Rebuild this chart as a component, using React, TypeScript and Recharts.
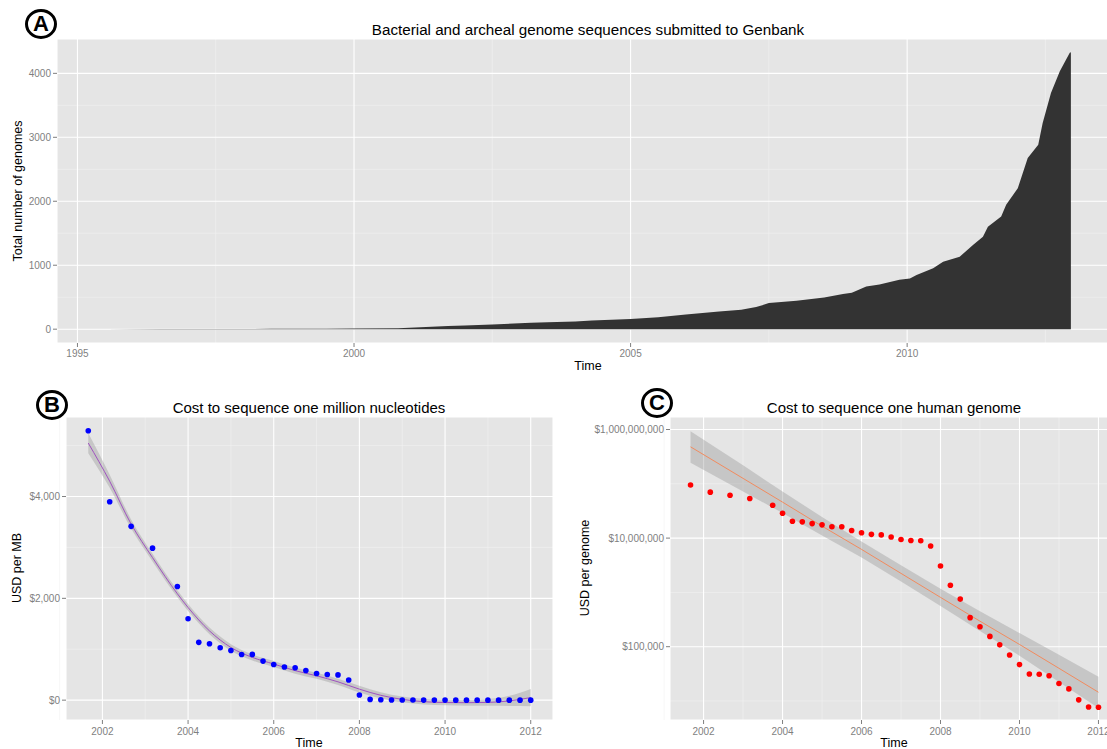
import React from 'react';
import { ComposedChart, Area, Line, Scatter, XAxis, YAxis, CartesianGrid } from 'recharts';

const FONT = '"Liberation Sans", Arial, Helvetica, sans-serif';

// ---------- Panel A: cumulative genomes ----------
const genomeYears = [
  1995.5, 1996.5, 1997.5, 1998.5, 1999.5, 2000.0, 2000.8, 2001.0, 2001.7, 2002.0,
  2002.5, 2003.2, 2003.5, 2004.0, 2004.3, 2005.0, 2005.5, 2006.0, 2006.6, 2007.0,
  2007.27, 2007.5, 2008.0, 2008.5, 2008.84, 2009.0, 2009.26, 2009.5, 2009.86, 2010.05,
  2010.17, 2010.47, 2010.65, 2010.95, 2011.19, 2011.37, 2011.46, 2011.7, 2011.79, 2012.0,
  2012.18, 2012.37, 2012.45, 2012.6, 2012.76, 2012.94, 2012.96,
];
const genomeCounts = [
  0, 1, 3, 5, 8, 10, 15, 22, 48, 58,
  75, 100, 110, 122, 136, 160, 188, 230, 277, 305,
  345, 408, 445, 495, 549, 570, 669, 700, 773, 794,
  846, 951, 1055, 1133, 1317, 1447, 1603, 1760, 1944, 2205,
  2676, 2884, 3224, 3694, 4033, 4321, 4330,
];
const genomeXTicks = [1995, 2000, 2005, 2010];
const genomeXMinor = [1997.5, 2002.5, 2007.5, 2012.5];
const genomeYTicks = [0, 1000, 2000, 3000, 4000];
const genomeYMinor = [500, 1500, 2500, 3500];

// ---------- Panels B & C: sequencing costs ----------
const costDates = [
  2001.67, 2002.17, 2002.67, 2003.17, 2003.75, 2004.0, 2004.25, 2004.5, 2004.75, 2005.0,
  2005.25, 2005.5, 2005.75, 2006.0, 2006.25, 2006.5, 2006.75, 2007.0, 2007.25, 2007.5,
  2007.75, 2008.0, 2008.25, 2008.5, 2008.75, 2009.0, 2009.25, 2009.5, 2009.75, 2010.0,
  2010.25, 2010.5, 2010.75, 2011.0, 2011.25, 2011.5, 2011.75, 2012.0,
];
const costPerMb = [
  5292.39, 3898.64, 3413.8, 2986.2, 2230.98, 1598.91, 1135.7, 1107.46, 1028.85, 974.16,
  897.76, 898.9, 766.73, 699.2, 651.81, 636.41, 581.92, 522.71, 502.61, 495.96,
  397.09, 102.13, 15.03, 8.36, 3.81, 2.59, 1.72, 1.2, 0.78, 0.52,
  0.35, 0.35, 0.32, 0.23, 0.19, 0.12, 0.09, 0.07,
];
const costPerGenome = [
  95263072, 70175437, 61448422, 53751684, 40157554, 28780376, 20442576, 19934346, 18519312, 17534970,
  16159699, 16180224, 13801124, 12585659, 11732535, 11455315, 10474556, 9408739, 9047003, 8927342,
  7147571, 3063820, 1352982, 752080, 342502, 232735, 154714, 108065, 70333, 46774,
  31512, 31125, 29092, 20963, 16712, 10497, 7743, 7666,
];

// loess smooth for panel B
const mbFitYears = [
  2001.67, 2002.17, 2002.67, 2003.17, 2003.75, 2004.0, 2004.5, 2005.0, 2005.5, 2006.0,
  2006.5, 2007.0, 2007.5, 2008.0, 2008.5, 2009.0, 2009.5, 2010.0, 2010.5, 2011.0,
  2011.5, 2012.0,
];
const mbFit = [
  5050, 4300, 3460, 2800, 2090, 1820, 1360, 1035, 840, 710,
  580, 478, 360, 216, 95, 15, -30, -47, -50, -45,
  -15, 51,
];
const mbFitHalfWidth = [
  200, 130, 90, 75, 70, 70, 65, 65, 60, 60,
  60, 60, 62, 68, 62, 58, 55, 55, 58, 65,
  100, 170,
];

// linear fit (log scale) for panel C
const genomeFitYears = [2001.67, 2003, 2004, 2005, 2006, 2007, 2008, 2009, 2010, 2011, 2012];
const genomeFit = [4.8e8, 1.26e8, 4.6e7, 1.66e7, 6.2e6, 2.24e6, 8.1e5, 2.95e5, 1.1e5, 4.0e4, 1.45e4];
const genomeFitLow = [2.45e8, 7.2e7, 2.9e7, 1.12e7, 4.4e6, 1.58e6, 5.6e5, 1.95e5, 6.8e4, 2.24e4, 7.4e3];
const genomeFitHigh = [9.3e8, 2.19e8, 7.2e7, 2.45e7, 8.7e6, 3.16e6, 1.17e6, 4.5e5, 1.78e5, 7.1e4, 2.8e4];

const costXTicks = [2002, 2004, 2006, 2008, 2010, 2012];
const costXMinor = [2001, 2003, 2005, 2007, 2009, 2011];
const mbYTicks = [0, 2000, 4000];
const mbYMinor = [1000, 3000, 5000];
const genomeYTicksC = [1e5, 1e7, 1e9];
const genomeYMinorC = [1e4, 1e6, 1e8];

// ---------- tables ----------
const areaData = genomeYears.map((t, i) => ({ t, v: genomeCounts[i] }));
const mbPoints = costDates.map((t, i) => ({ t, v: costPerMb[i] }));
const mbFitData = mbFitYears.map((t, i) => ({
  t,
  fit: mbFit[i],
  band: [mbFit[i] - mbFitHalfWidth[i], mbFit[i] + mbFitHalfWidth[i]],
}));
const genomePoints = costDates.map((t, i) => ({ t, v: costPerGenome[i] }));
const genomeFitData = genomeFitYears.map((t, i) => ({
  t,
  fit: genomeFit[i],
  band: [genomeFitLow[i], genomeFitHigh[i]],
}));

const tickStyle = { fill: '#7F7F7F', fontSize: 10, fontFamily: FONT };
const tickLine = { stroke: '#7F7F7F' };

const Txt = ({ x, y, size, rotate, children }: any) => (
  <div
    style={{
      position: 'absolute',
      left: x,
      top: y,
      transform: `translate(-50%, -50%)${rotate ? ' rotate(-90deg)' : ''}`,
      fontSize: size,
      fontFamily: FONT,
      color: '#000',
      whiteSpace: 'nowrap',
      lineHeight: 1,
    }}
  >
    {children}
  </div>
);

const Badge = ({ x, y, letter }: any) => (
  <div
    style={{
      position: 'absolute',
      left: x - 16,
      top: y - 15,
      width: 26,
      height: 24,
      border: '3px solid #000',
      borderRadius: '50%',
      display: 'flex',
      alignItems: 'center',
      justifyContent: 'center',
      fontSize: 22,
      fontWeight: 700,
      fontFamily: FONT,
      lineHeight: 1,
    }}
  >
    {letter}
  </div>
);

const dot = (color: string) => (props: any) =>
  <circle cx={props.cx} cy={props.cy} r={2.8} fill={color} />;

const dollars = (v: number) => '$' + Math.round(v).toLocaleString('en-US');

export default function App() {
  return (
    <div
      style={{
        position: 'fixed',
        left: 0,
        top: 0,
        width: 1107,
        height: 749,
        overflow: 'hidden',
        background: '#fff',
        fontFamily: FONT,
      }}
    >
      {/* Panel A */}
      <div style={{ position: 'absolute', left: 0, top: 0 }}>
        <ComposedChart width={1130} height={380} data={areaData} margin={{ top: 39, right: 11, bottom: 0, left: 0 }}>
          <CartesianGrid fill="#E5E5E5" stroke="#F2F2F2" strokeWidth={0.6}
            horizontalValues={genomeYMinor} verticalValues={genomeXMinor} />
          <CartesianGrid stroke="#FFFFFF" strokeWidth={1.1} />
          <XAxis dataKey="t" type="number" domain={[1994.63, 2013.83]} allowDataOverflow
            ticks={genomeXTicks} tick={tickStyle} tickLine={tickLine} tickSize={4} tickMargin={3}
            axisLine={false} height={37} />
          <YAxis type="number" domain={[-216, 4537]} allowDataOverflow ticks={genomeYTicks}
            tick={tickStyle} tickLine={tickLine} tickSize={4} tickMargin={2} axisLine={false} width={57} />
          <Area dataKey="v" type="linear" fill="#333333" fillOpacity={1} stroke="none" isAnimationActive={false} />
        </ComposedChart>
      </div>

      {/* Panel B */}
      <div style={{ position: 'absolute', left: 0, top: 380 }}>
        <ComposedChart width={560} height={369} margin={{ top: 37, right: 7, bottom: 0, left: 0 }}>
          <CartesianGrid fill="#E5E5E5" stroke="#F2F2F2" strokeWidth={0.6}
            horizontalValues={mbYMinor} verticalValues={costXMinor} />
          <CartesianGrid stroke="#FFFFFF" strokeWidth={1.1} />
          <XAxis dataKey="t" type="number" domain={[2001.15, 2012.52]} allowDataOverflow
            ticks={costXTicks} tick={tickStyle} tickLine={tickLine} tickSize={4} tickMargin={4}
            axisLine={false} height={29} />
          <YAxis type="number" domain={[-390, 5562]} allowDataOverflow ticks={mbYTicks}
            tickFormatter={dollars} tick={tickStyle} tickLine={tickLine} tickSize={4} tickMargin={2}
            axisLine={false} width={66} />
          <Scatter data={mbPoints} dataKey="v" shape={dot('#0000FF')} isAnimationActive={false} />
          <Area data={mbFitData} dataKey="band" type="monotone" fill="#999999" fillOpacity={0.4}
            stroke="none" isAnimationActive={false} />
          <Line data={mbFitData} dataKey="fit" type="monotone" stroke="#A052C0" strokeWidth={1}
            dot={false} isAnimationActive={false} />
        </ComposedChart>
      </div>

      {/* Panel C */}
      <div style={{ position: 'absolute', left: 570, top: 380 }}>
        <ComposedChart width={560} height={369} margin={{ top: 37, right: 11, bottom: 0, left: 0 }}>
          <CartesianGrid fill="#E5E5E5" stroke="#F2F2F2" strokeWidth={0.6}
            horizontalValues={genomeYMinorC} verticalValues={costXMinor} />
          <CartesianGrid stroke="#FFFFFF" strokeWidth={1.1} />
          <XAxis dataKey="t" type="number" domain={[2001.15, 2012.52]} allowDataOverflow
            ticks={costXTicks} tick={tickStyle} tickLine={tickLine} tickSize={4} tickMargin={4}
            axisLine={false} height={29} />
          <YAxis type="number" scale="log" domain={[4467, 1.7e9]} allowDataOverflow ticks={genomeYTicksC}
            tickFormatter={dollars} tick={tickStyle} tickLine={tickLine} tickSize={4} tickMargin={2}
            axisLine={false} width={100} />
          <Scatter data={genomePoints} dataKey="v" shape={dot('#FF0000')} isAnimationActive={false} />
          <Area data={genomeFitData} dataKey="band" type="linear" fill="#999999" fillOpacity={0.4}
            stroke="none" isAnimationActive={false} />
          <Line data={genomeFitData} dataKey="fit" type="linear" stroke="#F28B5E" strokeWidth={1}
            dot={false} isAnimationActive={false} />
        </ComposedChart>
      </div>

      {/* Titles and axis labels */}
      <Txt x={588} y={30} size={15.2}>Bacterial and archeal genome sequences submitted to Genbank</Txt>
      <Txt x={588} y={366} size={12.5}>Time</Txt>
      <Txt x={18} y={191} size={12.5} rotate>Total number of genomes</Txt>

      <Txt x={309} y={407} size={15}>Cost to sequence one million nucleotides</Txt>
      <Txt x={309} y={743} size={12.5}>Time</Txt>
      <Txt x={17} y={568} size={12.5} rotate>USD per MB</Txt>

      <Txt x={894} y={407} size={15}>Cost to sequence one human genome</Txt>
      <Txt x={894} y={743} size={12.5}>Time</Txt>
      <Txt x={585} y={568} size={12.5} rotate>USD per genome</Txt>

      <Badge x={41} y={24} letter="A" />
      <Badge x={52} y={405} letter="B" />
      <Badge x={657} y={403} letter="C" />
    </div>
  );
}
